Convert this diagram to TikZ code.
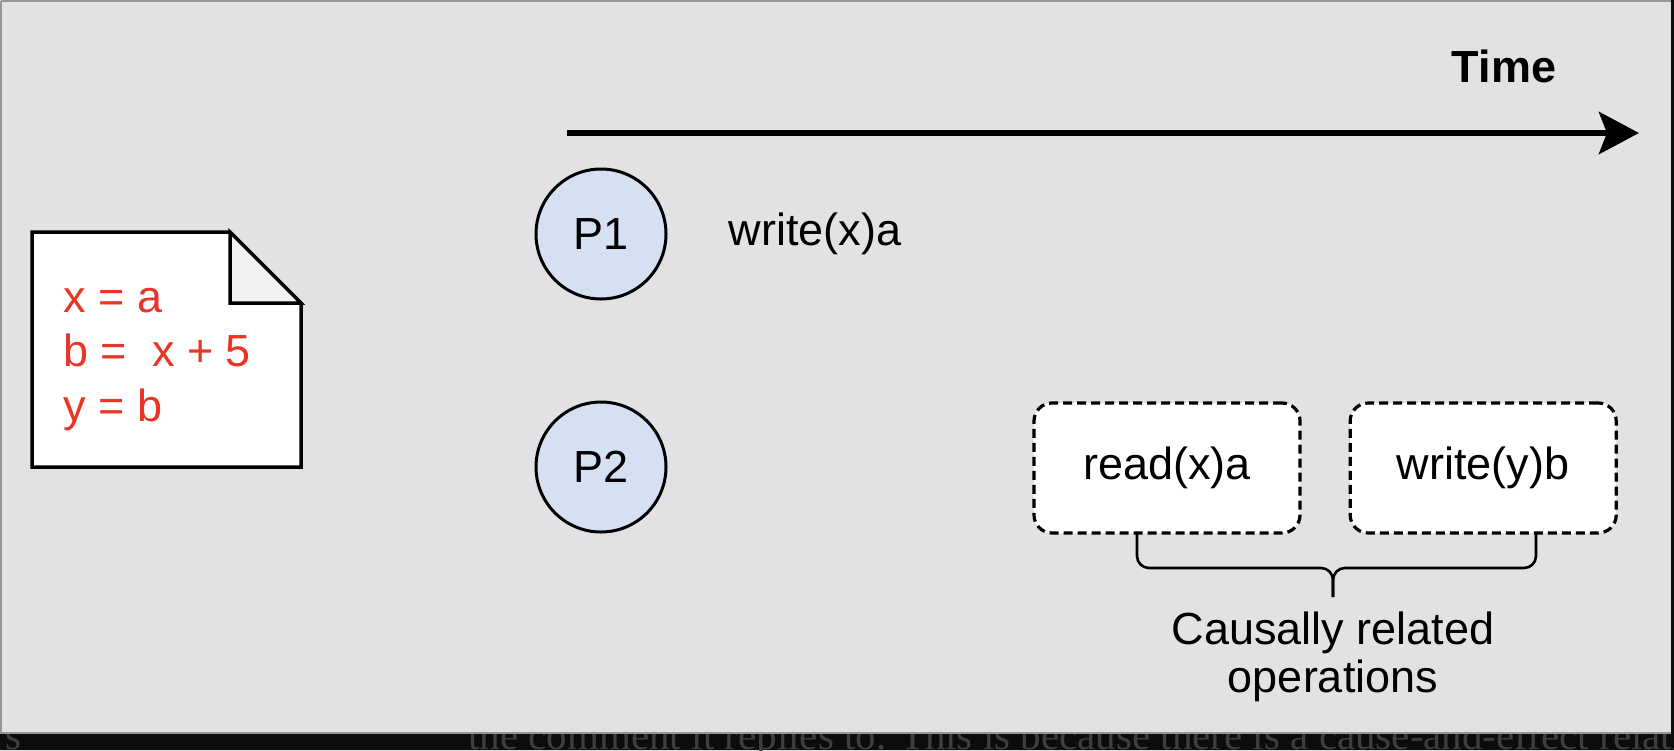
\documentclass[tikz,border=0pt]{standalone}
\usepackage{fontspec}
\setmainfont{Liberation Sans}
\newfontfamily\bandfont{Liberation Serif}
\usetikzlibrary{arrows.meta,positioning}
\definecolor{canvas}{RGB}{226,226,229}
\definecolor{frame}{RGB}{150,150,150}
\definecolor{procblue}{RGB}{213,224,243}
\definecolor{codered}{RGB}{233,53,37}
\definecolor{foldgray}{RGB}{242,242,242}
\definecolor{band}{RGB}{12,12,12}
\definecolor{bandtext}{RGB}{62,62,62}

\begin{document}
\begin{tikzpicture}[x=0.5pt,y=-0.5pt,
   font=\fontsize{22.5}{26}\selectfont,
   proc/.style={draw,circle,line width=1.5pt,fill=procblue,minimum size=65pt,inner sep=0pt},
   op/.style={draw,dash pattern=on 4.5pt off 2.5pt,rounded corners=9pt,line width=1.6pt,
      fill=white,minimum width=133pt,minimum height=65pt},
   brace/.style={line width=1.3pt,rounded corners=6pt}]
\useasboundingbox (0,0) rectangle (1674,750);
\fill[canvas] (0,0) rectangle (1671,733);
\draw[frame,line width=0.8pt] (0.8,0.8) -- (1671,0.8) (0.8,0.8) -- (0.8,733) -- (1671,733);
\fill[band] (1671,0) rectangle (1674,750) (0,734) rectangle (1674,750);
\begin{scope}
\clip (0,734) rectangle (1674,750);
\node[anchor=base west,inner sep=0pt,text=bandtext,font=\bandfont\fontsize{20.5}{24}\selectfont]
   (tail) at (468,749) {the comment it replies to. This is because there is a cause-and-effect relationship};
\node[anchor=base east,inner sep=0pt,text=bandtext,font=\bandfont\fontsize{20.5}{24}\selectfont]
   (head) at (22,749) {s};
\end{scope}

\coordinate (tstart) at (567,133);
\coordinate (tend) at (1639,133);
\draw[line width=3.3pt,-{Stealth[length=20pt,width=21pt,inset=4pt]}] (tstart) -- (tend);
\node[anchor=base] (time) at (1504,82) {\bfseries Time};

\draw[line width=1.75pt,fill=white] (32,232) -- (230,232) -- (301,303) -- (301,467) -- (32,467) -- cycle;
\draw[line width=1.75pt,fill=foldgray] (230,232) -- (230,303) -- (301,303) -- cycle;
\node[anchor=base west,align=left,inner sep=0pt,text=codered,font=\fontsize{22.5}{27.2}\selectfont]
   (code) at (63,421) {x = a\\b = \ x + 5\\y = b};

\node[proc] (p1) at (601,234) {P1};
\node[proc] (p2) at (601,467) {P2};
\node[right=27pt of p1] (wx) {write(x)a};

\node[op] (rx) at (1167,468) {read(x)a};
\node[op,right=23.5pt of rx] (wy) {write(y)b};

\coordinate (bl) at (1137,534);
\coordinate (br) at (1536,534);
\coordinate (bmid) at (1333,568);
\coordinate (btip) at (1333,597);
\draw[brace] (bl) -- (bl |- bmid) -- (bmid) -- (btip);
\draw[brace] (br) -- (br |- bmid) -- (bmid) -- (btip);
\node[below=7pt of btip,anchor=north,inner sep=0pt,align=center,font=\fontsize{22.5}{24}\selectfont]
   (causal) {Causally related\\operations};
\end{tikzpicture}
\end{document}
